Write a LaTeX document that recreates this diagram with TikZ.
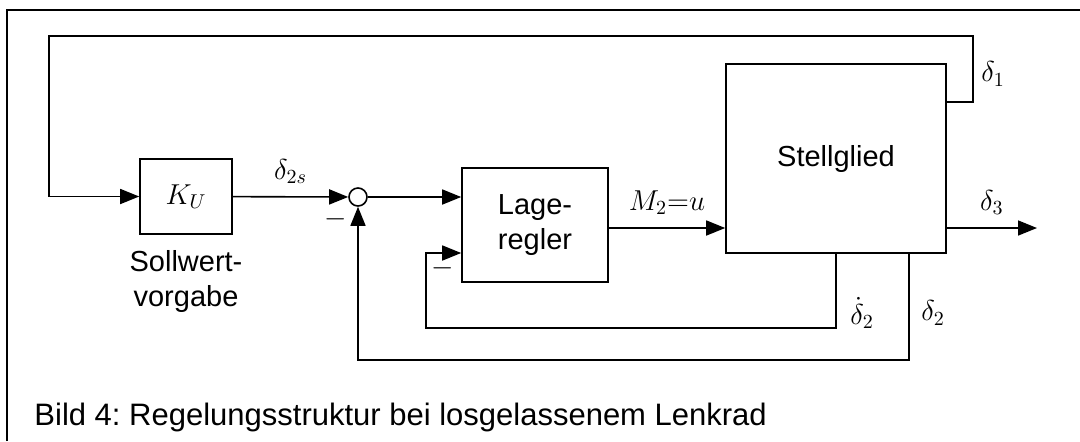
\documentclass[tikz,border=0pt]{standalone}
\usepackage{amsmath}
\usepackage{fontspec}
\setmainfont{Liberation Sans}
\usetikzlibrary{arrows.meta,positioning,calc}
\frenchspacing

\begin{document}
\begin{tikzpicture}[x=0.5pt, y=-0.5pt, line width=0.8pt,
    every node/.style={font=\fontsize{14.5}{17.5}\selectfont},
    block/.style={draw, inner sep=0pt},
    arr/.style={-{Triangle[length=9.5pt, width=7.5pt]}},
    sumpt/.style={draw, circle, inner sep=0pt, minimum size=9pt}]
        \useasboundingbox (0,0) rectangle (1080,441);
        \draw[line width=1pt] (7,441) -- (7,10) -- (1080,10);

        \node[block, minimum width=46pt, minimum height=37.5pt] (ku) at (186,196.5) {$K_U$};
        \node[align=center] (soll) at (186,281) {Sollwert-\\vorgabe};
        \node[sumpt] (sum) at (358,197) {};
        \node[block, minimum width=73pt, minimum height=57pt, align=center] (lage) at (535,225) {Lage-\\regler};
        \node[block, minimum width=110pt, minimum height=94.5pt] (stell) at (836,158.5) {Stellglied};

        \coordinate (d1) at (973,102);
        \coordinate (out) at (1037,228);
        \coordinate (fb1) at (426,328);
        \coordinate (fb2) at (909,360);

        % aeussere Rueckfuehrung delta_1
        \draw[arr] (stell.east |- d1) -- (d1) -- (973,36) -- (49,36) |- (ku.west);
        \node (lbld1) at (993,74) {$\delta_1$};

        \draw[arr] (ku) -- node[above=3pt]{$\delta_{2s}$} (sum);
        \draw[arr] (sum) -- (sum -| lage.west);
        \draw[arr] (lage.east |- out) -- node[above=3pt]{$M_2{=}u$} (stell.west |- out);
        \draw[arr] (stell.east |- out) -- node[above=3pt]{$\delta_3$} (out);

        % Rueckfuehrungen delta_2
        \draw[arr] (stell.south) |- (fb1) |- (lage.west |- 0,253);
        \draw[arr] (stell.south -| fb2) -- (fb2) -| (sum.south);
        \node (lbldd2) at (862,313) {$\dot{\delta}_2$};
        \node (lbld2) at (933,313) {$\delta_2$};
        \node (m1) at (336,219) {$-$};
        \node (m2) at (443,268) {$-$};

        \node[anchor=base west, font=\fontsize{15.5}{18}\selectfont] (cap) at (27,425) {Bild 4: Regelungsstruktur bei losgelassenem Lenkrad};
    \end{tikzpicture}
\end{document}
